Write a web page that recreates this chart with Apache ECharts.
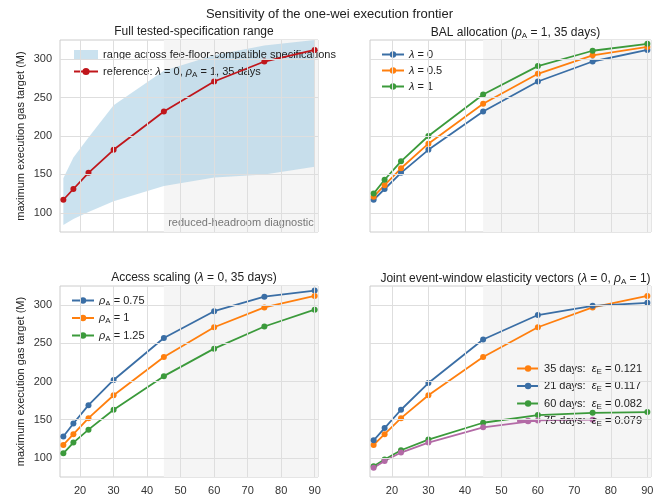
<!DOCTYPE html><html><head><meta charset="utf-8"><script src="https://cdn.jsdelivr.net/npm/echarts@6/dist/echarts.min.js"></script></head><body style="margin:0"><div id="c" style="width:659px;height:499px"></div><script>
const xs=[15,18,22.5,30,45,60,75,90];
const xTicks=[20,30,40,50,60,70,80,90];
const yTicks=[100,150,200,250,300];
const refV=[117,131,152,182,232,271,297,312];
const bandHi=[145,172,198,240,285,305,318,325];
const bandLo=[84,92,101,115,135,146,150,160];
const bal05=[121,136,158,190,242,281,305,316];
const bal1=[125,143,167,200,254,291,311,320];
const acc075=[128,145,169,202,257,292,311,319];
const acc125=[106,120,137,163,207,243,272,294];
const d21=[123,139,163,198,255,287,299,303];
const d60=[89,98,110,124,146,156,159,160];
const d75=[87,96,107,120,140,149,150];
const F='Liberation Sans';
const rich={sub:{fontSize:8,verticalAlign:'bottom',padding:[6,0,0,0],fontFamily:F},i:{fontStyle:'italic',fontFamily:F,fontSize:11}};
const C={blue:'#3a6ea5',orange:'#ff7f0e',green:'#3b9a3b',purple:'#b36aa6',red:'#c0161b'};
const grids=[{left:60,right:341,top:40,bottom:267},{left:370,right:8,top:40,bottom:267},{left:60,right:341,top:286,bottom:22},{left:370,right:8,top:286,bottom:22}];
const xAxis=[],yAxis=[],series=[],legend=[],titles=[];
const titleTxt=['Full tested-specification range','BAL allocation ({i|ρ}{sub|A} = 1, 35 days)','Access scaling ({i|λ} = 0, 35 days)','Joint event-window elasticity vectors ({i|λ} = 0, {i|ρ}{sub|A} = 1)'];
grids.forEach((g,i)=>{
 xAxis.push({type:'value',gridIndex:i,min:14,max:91,splitLine:{show:false},axisLine:{show:false},axisTick:{show:false},
  axisLabel:{show:i>=2,customValues:xTicks,color:'#333',fontSize:11,fontFamily:F}});
 yAxis.push({type:'value',gridIndex:i,min:75,max:325,splitLine:{show:false},axisLine:{show:false},axisTick:{show:false},
  axisLabel:{show:i%2==0,customValues:yTicks,color:'#333',fontSize:11,fontFamily:F},
  name:i%2==0?'maximum execution gas target (M)':'',nameLocation:'middle',nameGap:34,nameTextStyle:{color:'#222',fontSize:11,fontFamily:F}});
 titles.push({text:titleTxt[i],left:(i%2==0?(60+318)/2:(370+651)/2),top:g.top-19,textAlign:'center',textStyle:{fontSize:12,fontWeight:'normal',color:'#222',fontFamily:F,rich:{sub:{fontSize:8,padding:[6,0,0,0],fontFamily:F},i:{fontStyle:'italic',fontSize:12,fontFamily:F}}}});
 series.push({type:'line',xAxisIndex:i,yAxisIndex:i,data:[],silent:true,z:0,
  markArea:{silent:true,itemStyle:{color:'#f5f5f5'},data:[[{xAxis:45},{xAxis:91}]],label:{show:i==0,position:'insideBottom',formatter:'reduced-headroom diagnostic',color:'#777',fontSize:11,fontFamily:F,distance:4}},
  markLine:{silent:true,symbol:'none',label:{show:false},lineStyle:{color:'#dedede',type:'solid',width:1},data:xTicks.map(v=>({xAxis:v})).concat(yTicks.map(v=>({yAxis:v})))}});
});
function ln(i,name,data,color,z){series.push({type:'line',name,xAxisIndex:i,yAxisIndex:i,data:data.map((v,k)=>[xs[k],v]),color,symbol:'circle',symbolSize:6,lineStyle:{width:1.8},z:z||3});}
const bandColor='rgba(160,203,226,0.55)';
series.push({type:'custom',name:'range across fee-floor-compatible specifications',xAxisIndex:0,yAxisIndex:0,z:1,silent:true,color:bandColor,
 data:[0],renderItem:(p,api)=>{
  const pts=xs.map((x,k)=>api.coord([x,bandHi[k]])).concat(xs.map((x,k)=>api.coord([x,bandLo[k]])).reverse());
  return {type:'polygon',shape:{points:pts},style:{fill:bandColor}};
 }});
ln(0,'reference: {i|λ} = 0, {i|ρ}{sub|A} = 1, 35 days',refV,C.red,4);
ln(1,'{i|λ} = 0',refV,C.blue);ln(1,'{i|λ} = 0.5',bal05,C.orange);ln(1,'{i|λ} = 1',bal1,C.green);
ln(2,'{i|ρ}{sub|A} = 0.75',acc075,C.blue);ln(2,'{i|ρ}{sub|A} = 1',refV,C.orange);ln(2,'{i|ρ}{sub|A} = 1.25',acc125,C.green);
ln(3,'35 days:  {i|ε}{sub|E} = 0.121',refV,C.orange);ln(3,'21 days:  {i|ε}{sub|E} = 0.117',d21,C.blue);ln(3,'60 days:  {i|ε}{sub|E} = 0.082',d60,C.green);ln(3,'75 days:  {i|ε}{sub|E} = 0.079',d75,C.purple);
const lt={fontSize:11,color:'#222',fontFamily:F,rich};
legend.push({data:[{name:'range across fee-floor-compatible specifications',icon:'rect',itemStyle:{color:bandColor}},{name:'reference: {i|λ} = 0, {i|ρ}{sub|A} = 1, 35 days'}],left:68,top:44,orient:'vertical',itemWidth:24,itemHeight:9,itemGap:6,textStyle:lt});
legend.push({data:['{i|λ} = 0','{i|λ} = 0.5','{i|λ} = 1'],left:376,top:44,orient:'vertical',itemWidth:22,itemHeight:8,itemGap:5,textStyle:lt});
legend.push({data:['{i|ρ}{sub|A} = 0.75','{i|ρ}{sub|A} = 1','{i|ρ}{sub|A} = 1.25'],left:66,top:290,orient:'vertical',itemWidth:22,itemHeight:8,itemGap:5,textStyle:lt});
legend.push({data:['35 days:  {i|ε}{sub|E} = 0.121','21 days:  {i|ε}{sub|E} = 0.117','60 days:  {i|ε}{sub|E} = 0.082','75 days:  {i|ε}{sub|E} = 0.079'],right:12,top:358,orient:'vertical',itemWidth:22,itemHeight:8,itemGap:5,textStyle:lt});
titles.unshift({text:'Sensitivity of the one-wei execution frontier',left:'center',top:3,textStyle:{fontSize:13,fontWeight:'normal',color:'#222',fontFamily:F}});
const ch=echarts.init(document.getElementById('c'));
ch.setOption({backgroundColor:'#fff',animation:false,title:titles,grid:grids.map(g=>Object.assign({show:true,borderColor:'#ccc',borderWidth:1,backgroundColor:'#fff'},g)),xAxis,yAxis,series,legend});
</script></body></html>
